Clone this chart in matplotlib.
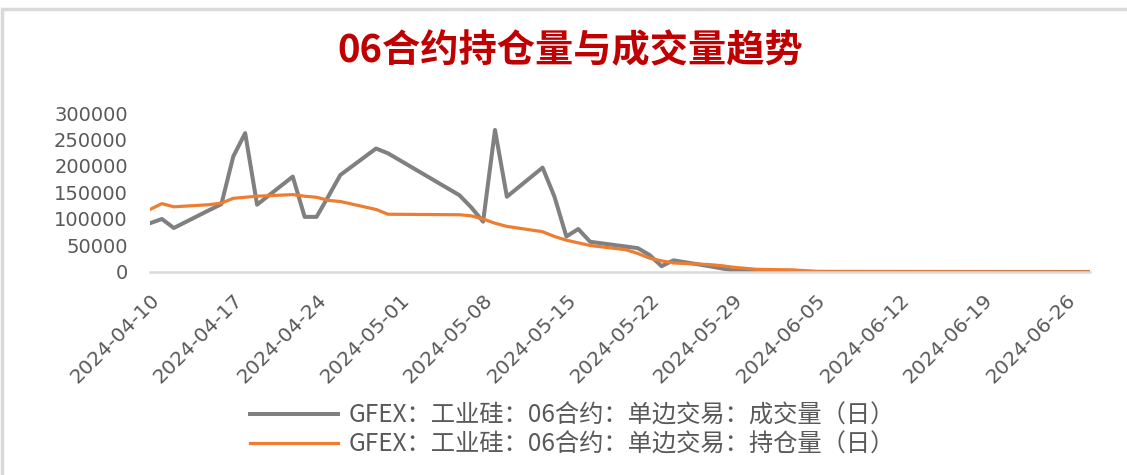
import pandas as pd
import matplotlib.pyplot as plt
from matplotlib.patches import Rectangle

# trading days of the 06 contract (holidays skipped)
dates = [
    "2024-04-10", "2024-04-11", "2024-04-12", "2024-04-15", "2024-04-16", "2024-04-17",
    "2024-04-18", "2024-04-19", "2024-04-22", "2024-04-23", "2024-04-24", "2024-04-25",
    "2024-04-26", "2024-04-29", "2024-04-30", "2024-05-06", "2024-05-07", "2024-05-08",
    "2024-05-09", "2024-05-10", "2024-05-13", "2024-05-14", "2024-05-15", "2024-05-16",
    "2024-05-17", "2024-05-20", "2024-05-21", "2024-05-22", "2024-05-23", "2024-05-24",
    "2024-05-27", "2024-05-28", "2024-05-29", "2024-05-30", "2024-05-31", "2024-06-03",
    "2024-06-04", "2024-06-05", "2024-06-06", "2024-06-07", "2024-06-11", "2024-06-12",
    "2024-06-13", "2024-06-14", "2024-06-17", "2024-06-18", "2024-06-19", "2024-06-20",
    "2024-06-21", "2024-06-24", "2024-06-25", "2024-06-26", "2024-06-27", "2024-06-28",
]

volume = [
    92000, 100000, 83000, 117000, 128000, 218000,
    262000, 127000, 180000, 104000, 104000, 143000,
    183000, 233000, 224000, 145000, 122000, 95000,
    268000, 142000, 197000, 142000, 67000, 81000,
    57000, 48000, 45000, 32000, 11000, 22000,
    11000, 7000, 3000, 2500, 1500, 1000,
    600, 400, 300, 250, 200, 200,
    150, 150, 120, 100, 100, 80,
    80, 60, 60, 50, 40, 30,
]

open_interest = [
    118000, 129000, 123000, 127000, 130000, 139000,
    141000, 143000, 146000, 143000, 141000, 135000,
    133000, 118000, 109000, 108000, 106000, 100000,
    92000, 86000, 76000, 67000, 60000, 55000,
    50000, 42000, 35000, 26000, 21000, 17000,
    14000, 12000, 9000, 7000, 5000, 4000,
    2500, 800, 500, 450, 400, 400,
    350, 350, 300, 300, 250, 250,
    200, 200, 150, 150, 100, 80,
]

title = "06合约持仓量与成交量趋势"
labels = ["GFEX：工业硅：06合约：单边交易：成交量（日）",
          "GFEX：工业硅：06合约：单边交易：持仓量（日）"]

cjk = ["Noto Sans CJK SC", "DejaVu Sans"]
d = pd.to_datetime(dates)

fig = plt.figure(figsize=(11.27, 4.75), dpi=100)
ax = fig.add_axes([0.1331, 0.4274, 0.8339, 0.3347])

ax.plot(d, volume, color="#808080", lw=2.9, label=labels[0])
ax.plot(d, open_interest, color="#ED7D31", lw=2.3, label=labels[1])

ax.set_xlim(d[0], d[-1])
ax.set_ylim(0, 300000)
ax.set_yticks(range(0, 300001, 50000))
ticks = pd.date_range("2024-04-10", "2024-06-26", freq="7D")
ax.set_xticks(ticks)
ax.set_xticklabels([t.strftime("%Y-%m-%d") for t in ticks], rotation=45,
                   ha="right", va="top", rotation_mode="anchor")

for s in ["top", "right", "left"]:
    ax.spines[s].set_visible(False)
ax.spines["bottom"].set_color("#D9D9D9")
ax.spines["bottom"].set_linewidth(1.8)
ax.tick_params(axis="y", length=0, pad=16, labelsize=14, labelcolor="#595959")
ax.tick_params(axis="x", length=0, pad=13, labelsize=14.5, labelcolor="#595959")

fig.text(0.506, 1 - 51 / 475, title, ha="center", va="center", fontsize=27.5,
         fontweight="bold", color="#C00000", family=cjk)

leg = fig.legend(loc="center", bbox_to_anchor=(0.508, 1 - 430 / 475), ncol=1,
                 frameon=False, handlelength=3.6, handletextpad=0.45,
                 labelspacing=0.12, prop={"family": cjk, "size": 17.5})
for t in leg.get_texts():
    t.set_color("#595959")

# light grey frame around the chart area
fig.patches.append(Rectangle((2 / 1127, -0.02), 1.2, 1 - 9 / 475 + 0.02,
                             transform=fig.transFigure, fill=False,
                             ec="#D9D9D9", lw=2.5))

fig.savefig("out.png", dpi=100)
